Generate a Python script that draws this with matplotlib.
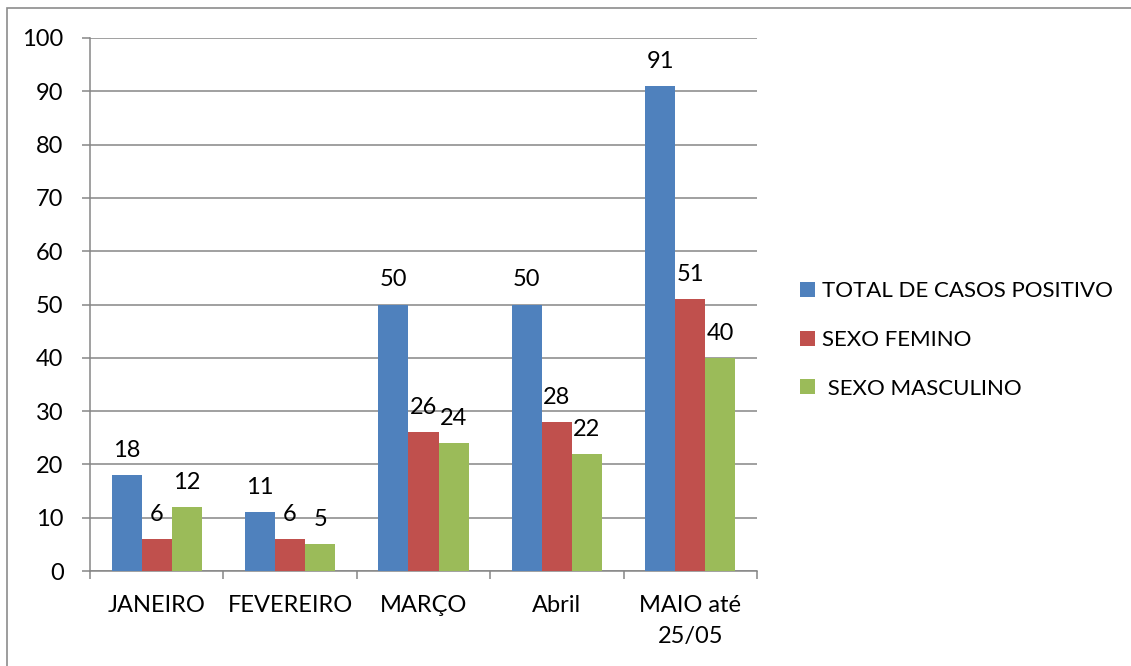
import numpy as np
import matplotlib.pyplot as plt
from matplotlib.patches import Rectangle

# Dados
meses = ['JANEIRO', 'FEVEREIRO', 'MARÇO', 'Abril', 'MAIO até\n25/05']
total_casos = [18, 11, 50, 50, 91]
sexo_feminino = [6, 6, 26, 28, 51]
sexo_masculino = [12, 5, 24, 22, 40]
series_nomes = ['TOTAL DE CASOS POSITIVO', 'SEXO FEMINO', ' SEXO MASCULINO']
cores = ['#4F81BD', '#C0504D', '#9BBB59']

plt.rcParams['font.family'] = ['Lato', 'DejaVu Sans']
fs = 17

fig = plt.figure(figsize=(11.31, 6.66), dpi=100)
ax = fig.add_axes([90 / 1131, 95 / 666, 667 / 1131, 533 / 666])

# moldura da figura
fig.add_artist(Rectangle((7 / 1131, -0.1), 1.2, 1.1 - 8 / 666,
                         transform=fig.transFigure, fill=False,
                         edgecolor='#8c8c8c', linewidth=1.2))

x = np.arange(len(meses))
ancho = 0.225
valores = [total_casos, sexo_feminino, sexo_masculino]
for i, (vals, nome, cor) in enumerate(zip(valores, series_nomes, cores)):
    barras = ax.bar(x + (i - 1) * ancho, vals, ancho, color=cor, label=nome, zorder=3)
    for b, v in zip(barras, vals):
        ax.annotate(str(v), (b.get_x() + b.get_width() / 2, v),
                    xytext=(0, 13), textcoords='offset points',
                    ha='center', va='baseline', fontsize=fs)

ax.set_xlim(-0.5, len(meses) - 0.5)
ax.set_ylim(0, 100)
ax.set_yticks(range(0, 101, 10))
ax.yaxis.grid(True, color='#868686', linewidth=1.1, zorder=0)
ax.set_axisbelow(True)

ax.set_xticks(x)
ax.set_xticklabels(meses, fontsize=fs, linespacing=1.6)
ax.set_xticks(np.arange(-0.5, len(meses)), minor=True)
ax.tick_params(axis='x', which='major', length=0, pad=17)
ax.tick_params(axis='x', which='minor', length=6, color='#868686', width=1.1)
ax.tick_params(axis='y', length=6, color='#868686', width=1.1, pad=13, labelsize=fs)

for lado in ['top', 'right']:
    ax.spines[lado].set_visible(False)
for lado in ['left', 'bottom']:
    ax.spines[lado].set_color('#868686')
    ax.spines[lado].set_linewidth(1.1)

ax.legend(loc='upper left', bbox_to_anchor=(800 / 1131, 1 - 281 / 666),
          bbox_transform=fig.transFigure, frameon=False, fontsize=16,
          handlelength=0.66, handleheight=0.66, handletextpad=0.32,
          labelspacing=1.3, borderpad=0, borderaxespad=0)

plt.savefig('out.png', dpi=100)
